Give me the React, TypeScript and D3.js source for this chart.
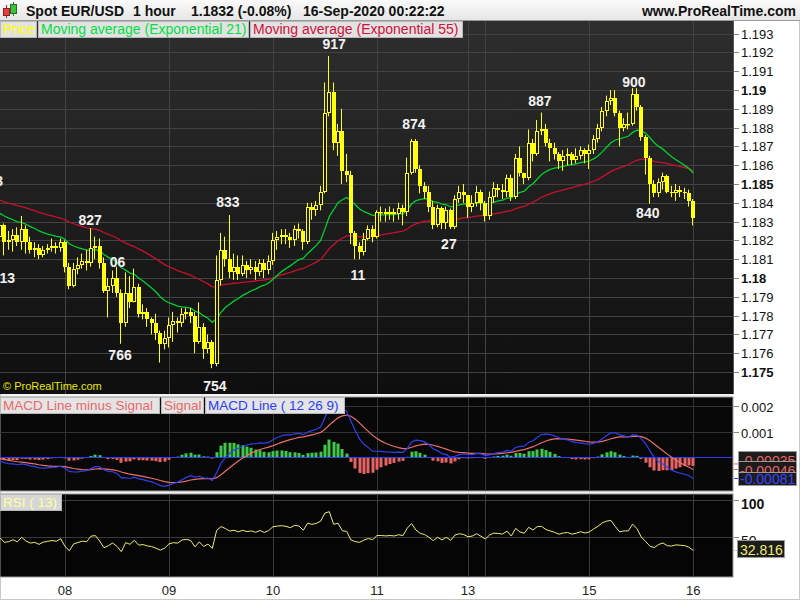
import React from "react";
import * as d3 from "d3";

// ---------- DATA ----------
const OPEN0 = 1.1822;
const closes = [
  1.1828, 1.1819, 1.182, 1.1823, 1.1819, 1.1826, 1.1819, 1.1815, 1.1816, 1.1812,
  1.1815, 1.1816, 1.1817, 1.1816, 1.1819, 1.1806, 1.1796, 1.1805, 1.1807, 1.1809,
  1.1808, 1.1816, 1.1817, 1.1808, 1.1793, 1.1796, 1.18, 1.1792, 1.1776, 1.1792,
  1.1787, 1.1795, 1.1781, 1.1782, 1.1778, 1.1776, 1.1771, 1.1765, 1.1768, 1.1775,
  1.1777, 1.1776, 1.1781, 1.1782, 1.178, 1.1766, 1.1774, 1.1762, 1.1766, 1.1754,
  1.1799, 1.1815, 1.181, 1.1803, 1.1806, 1.1802, 1.1807, 1.1804, 1.1806, 1.1803,
  1.1808, 1.1804, 1.1809, 1.182, 1.1822, 1.1823, 1.1822, 1.182, 1.1826, 1.1825,
  1.1819, 1.1838, 1.1836, 1.1839, 1.1846, 1.1888, 1.1899, 1.1872, 1.1878, 1.1857,
  1.1855, 1.1824, 1.1817, 1.1814, 1.1821, 1.1826, 1.1822, 1.1835, 1.1835, 1.1834,
  1.1835, 1.1834, 1.1837, 1.1835, 1.1856, 1.1873, 1.1858, 1.1849, 1.1846, 1.1838,
  1.1828, 1.1837, 1.1829, 1.1836, 1.1827, 1.1842, 1.1846, 1.1844, 1.1838, 1.184,
  1.1846, 1.184, 1.1833, 1.1843, 1.1848, 1.1847, 1.1846, 1.1853, 1.1843, 1.1864,
  1.1856, 1.1853, 1.1872, 1.1866, 1.1878, 1.1879, 1.1872, 1.1869, 1.1866, 1.1862,
  1.1865, 1.1866, 1.1863, 1.1865, 1.1868, 1.1866, 1.1868, 1.1874, 1.188, 1.1889,
  1.1894, 1.1896, 1.1888, 1.188, 1.1882, 1.1882, 1.1898, 1.1891, 1.1875, 1.1864,
  1.185, 1.1845, 1.1851, 1.1854, 1.1846, 1.1845, 1.1847, 1.1846, 1.1845, 1.1841,
  1.1832,
];
const highs = [
  1.183, 1.1829, 1.1825, 1.1826, 1.1827, 1.1833, 1.1828, 1.1822, 1.1819, 1.1818,
  1.1817, 1.1818, 1.1821, 1.1819, 1.1821, 1.182, 1.1808, 1.1808, 1.1811, 1.1813,
  1.1815, 1.18266, 1.1822, 1.1821, 1.1811, 1.18, 1.1804, 1.1806, 1.1794, 1.1803,
  1.1801, 1.1805, 1.1797, 1.1786, 1.1784, 1.1779, 1.1781, 1.1772, 1.1772, 1.1779,
  1.1782, 1.1779, 1.1784, 1.1784, 1.1784, 1.1782, 1.1787, 1.1776, 1.177, 1.1767,
  1.1812, 1.1824, 1.1822, 1.18335, 1.1813, 1.1812, 1.1812, 1.1809, 1.181, 1.1809,
  1.181, 1.181, 1.1812, 1.1824, 1.1825, 1.1826, 1.1826, 1.1824, 1.1828, 1.1829,
  1.1826, 1.184, 1.184, 1.1841, 1.1849, 1.1904, 1.19181, 1.1904, 1.1882, 1.189,
  1.1866, 1.1857, 1.1825, 1.1819, 1.1824, 1.1828, 1.1828, 1.1836, 1.1838, 1.1837,
  1.1838, 1.1837, 1.184, 1.1839, 1.1864, 1.1874, 1.18739, 1.186, 1.1851, 1.1849,
  1.1841, 1.1839, 1.1838, 1.1838, 1.1837, 1.1844, 1.1849, 1.185, 1.1841, 1.1844,
  1.1849, 1.1847, 1.1841, 1.1846, 1.1851, 1.185, 1.185, 1.1855, 1.1855, 1.1866,
  1.187, 1.1856, 1.1879, 1.1874, 1.1884, 1.1888, 1.1882, 1.1874, 1.1872, 1.1867,
  1.1868, 1.1869, 1.1867, 1.1869, 1.187, 1.1869, 1.1871, 1.1876, 1.1882, 1.1891,
  1.1897, 1.19, 1.19, 1.1889, 1.1885, 1.1888, 1.1901, 1.1901, 1.1892, 1.1876,
  1.1865, 1.1852, 1.1853, 1.1856, 1.1855, 1.1849, 1.185, 1.1849, 1.1848, 1.1847,
  1.1842,
];
const lows = [
  1.182, 1.1812, 1.1815, 1.1814, 1.1817, 1.1815, 1.1813, 1.1813, 1.1811, 1.181,
  1.1811, 1.1813, 1.1814, 1.1813, 1.1814, 1.1803, 1.1794, 1.1795, 1.1802, 1.1805,
  1.1804, 1.1806, 1.181, 1.1805, 1.1792, 1.1779, 1.1792, 1.179, 1.1765, 1.1774,
  1.1784, 1.1787, 1.1779, 1.1778, 1.1774, 1.177, 1.1767, 1.1755, 1.1762, 1.1763,
  1.1766, 1.1771, 1.1774, 1.1778, 1.1776, 1.176, 1.1765, 1.1757, 1.176, 1.1752,
  1.1753, 1.1796, 1.1806, 1.18, 1.1799, 1.1799, 1.1801, 1.18, 1.1802, 1.1799,
  1.1801, 1.18, 1.1802, 1.1807, 1.1815, 1.1818, 1.1818, 1.1816, 1.1817, 1.1821,
  1.1815, 1.1818, 1.1831, 1.1833, 1.1836, 1.1845, 1.1886, 1.1868, 1.1865, 1.185,
  1.1851, 1.1818, 1.181, 1.181, 1.1812, 1.182, 1.1819, 1.1821, 1.183, 1.183,
  1.1831, 1.183, 1.1831, 1.1828, 1.1833, 1.1855, 1.1856, 1.1845, 1.1842, 1.1835,
  1.1826, 1.1827, 1.1826, 1.1826, 1.1826, 1.1826, 1.184, 1.184, 1.1832, 1.1835,
  1.1838, 1.1836, 1.183, 1.1831, 1.184, 1.1843, 1.1842, 1.1843, 1.1841, 1.1842,
  1.1854, 1.185, 1.1852, 1.1862, 1.1865, 1.1876, 1.187, 1.1862, 1.1863, 1.1858,
  1.1857, 1.186, 1.186, 1.1861, 1.1863, 1.1861, 1.1858, 1.1866, 1.1872, 1.1878,
  1.1886, 1.1892, 1.1886, 1.187, 1.1878, 1.1879, 1.1881, 1.1889, 1.1873, 1.1855,
  1.18395, 1.1843, 1.1843, 1.1847, 1.1845, 1.1843, 1.1841, 1.1843, 1.1842, 1.1838,
  1.1828,
];

// indicator seeds (values read at the left edge of the reference)
const EMA21_SEED = 1.1835;
const EMA55_SEED = 1.18418;
const EMA12_SEED = 1.1829;
const EMA26_SEED = 1.18306;
const SIGNAL_SEED = -0.00004;
const RSI_GAIN_SEED = 0.00022;
const RSI_LOSS_SEED = 0.00029;

const dayTickIndex = [15, 39, 63, 87, 108, 112, 136, 160];
const dayTickLabel = ["08", "09", "10", "11", "13", "", "15", "16"];
const priceTicks = [
  1.175, 1.176, 1.177, 1.178, 1.179, 1.18, 1.181, 1.182, 1.183, 1.184,
  1.185, 1.186, 1.187, 1.188, 1.189, 1.19, 1.191, 1.192, 1.193,
];
const boldPriceTicks = [1.175, 1.18, 1.185, 1.19];
const macdTicks = [0.001, 0.002];
const rsiTicks = [50, 100];

const annotations = [
  { text: "917", i: 77.1, price: 1.19181, dy: -7 },
  { text: "874", i: 95.5, price: 1.18739, dy: -10 },
  { text: "887", i: 124.6, price: 1.1888, dy: -7 },
  { text: "900", i: 146.3, price: 1.1901, dy: -1 },
  { text: "827", i: 20.8, price: 1.18266, dy: -3 },
  { text: "833", i: 52.6, price: 1.18335, dy: -8 },
  { text: "766", i: 27.7, price: 1.1765, dy: 16 },
  { text: "754", i: 49.6, price: 1.1752, dy: 23 },
  { text: "11", i: 82.6, price: 1.181, dy: 21 },
  { text: "27", i: 103.6, price: 1.1827, dy: 22 },
  { text: "840", i: 149.5, price: 1.18395, dy: 14 },
  { text: "06", i: 27.1, price: 1.1806, dy: 0 },
  { text: "13", i: 1.7, price: 1.1813, dy: 29 },
  { text: "3", i: -0.2, price: 1.1849, dy: 0 },
];

const legendMain = [
  { text: "Price", color: "#ffff00", x: 0, w: 37 },
  { text: "Moving average (Exponential 21)", color: "#00e040", x: 38, w: 211 },
  { text: "Moving average (Exponential 55)", color: "#d0103a", x: 250, w: 213 },
];
const legendMacd = [
  { text: "MACD Line minus Signal", color: "#e86a6a", x: 0, w: 160 },
  { text: "Signal", color: "#e86a6a", x: 161, w: 43 },
  { text: "MACD Line ( 12 26 9)", color: "#2a3cff", x: 205, w: 140 },
];

// ---------- COMPONENT ----------
const FONT = "'Liberation Sans', Arial, Helvetica, sans-serif";
const YELLOW = "#ffff10";

function ema(src: number[], n: number, seed: number) {
  const k = 2 / (n + 1);
  let prev = seed;
  return src.map((v) => (prev = prev + k * (v - prev)));
}

export default function App() {
  const N = closes.length;
  const opens = closes.map((c, i) => (i === 0 ? OPEN0 : closes[i - 1]));
  const ema21 = ema(closes, 21, EMA21_SEED);
  const ema55 = ema(closes, 55, EMA55_SEED);
  const e12 = ema(closes, 12, EMA12_SEED);
  const e26 = ema(closes, 26, EMA26_SEED);
  const macd = e12.map((v, i) => v - e26[i]);
  const signal = ema(macd, 9, SIGNAL_SEED);
  const hist = macd.map((v, i) => v - signal[i]);
  let ag = RSI_GAIN_SEED;
  let al = RSI_LOSS_SEED;
  const rsi = closes.map((c, i) => {
    const d = c - opens[i];
    ag = (ag * 12 + Math.max(d, 0)) / 13;
    al = (al * 12 + Math.max(-d, 0)) / 13;
    return 100 - 100 / (1 + ag / al);
  });

  const main = { x0: 0, x1: 733, y0: 21, y1: 394 };
  const mpan = { y0: 397, y1: 491 };
  const rpan = { y0: 494, y1: 577 };

  const xs = d3.scaleLinear().domain([0, 160]).range([0, 693.3]);
  const ys = d3.scaleLinear().domain([1.175, 1.19]).range([372, 90]);
  const ym = d3.scaleLinear().domain([0, 0.002]).range([457, 406]);
  const yr = d3.scaleLinear().domain([0, 100]).range([573.5, 499.5]);

  const idx = d3.range(N);
  const lineMain = (arr: number[]) =>
    d3.line<number>().x((i) => xs(i)).y((i) => ys(arr[i]))(idx) || "";
  const lineMacd = (arr: number[]) =>
    d3.line<number>().x((i) => xs(i)).y((i) => ym(arr[i]))(idx) || "";
  const lineRsi = d3.line<number>().x((i) => xs(i)).y((i) => yr(rsi[i]))(idx) || "";

  const dayX = dayTickIndex.map((i) => Math.round(xs(i)) + 0.5);

  return (
    <svg
      width={800}
      height={600}
      style={{ position: "absolute", left: 0, top: 0, fontFamily: FONT }}
    >
      <defs>
        <linearGradient id="mainbg" x1="0" y1="0" x2="0" y2="1">
          <stop offset="0" stopColor="#2e2e2e" />
          <stop offset="1" stopColor="#0e0e0e" />
        </linearGradient>
        <linearGradient id="hdr" x1="0" y1="0" x2="0" y2="1">
          <stop offset="0" stopColor="#fafafa" />
          <stop offset="1" stopColor="#e6e6e6" />
        </linearGradient>
        <clipPath id="cpMain">
          <rect x={main.x0} y={main.y0} width={main.x1 - main.x0} height={main.y1 - main.y0} />
        </clipPath>
        <clipPath id="cpMacd">
          <rect x={0} y={mpan.y0} width={733} height={mpan.y1 - mpan.y0} />
        </clipPath>
        <clipPath id="cpRsi">
          <rect x={0} y={rpan.y0} width={733} height={rpan.y1 - rpan.y0} />
        </clipPath>
      </defs>

      {/* page background */}
      <rect x={0} y={0} width={800} height={600} fill="#f2f2f2" />
      <rect x={733} y={21} width={66} height={578} fill="#ffffff" />
      <rect x={0} y={577} width={733} height={22} fill="#ffffff" />
      <rect x={0.5} y={0.5} width={799} height={599} fill="none" stroke="#c8c8c8" />

      {/* header */}
      <rect x={0} y={0} width={800} height={20} fill="url(#hdr)" />
      <line x1={0} y1={20.5} x2={800} y2={20.5} stroke="#9a9a9a" />
      <g>
        <line x1={6.5} y1={5} x2={6.5} y2={18} stroke="#c02020" />
        <rect x={3.5} y={8.5} width={6} height={7} fill="#e04040" stroke="#902020" />
        <line x1={13.5} y1={2} x2={13.5} y2={16} stroke="#208020" />
        <rect x={10.5} y={4.5} width={6} height={9} fill="#40c040" stroke="#207020" />
      </g>
      <g fontWeight="bold" fontSize={14} fill="#111">
        <text x={26} y={16}>Spot EUR/USD</text>
        <text x={133} y={16}>1 hour</text>
        <text x={191} y={16}>1.1832 (-0.08%)</text>
        <text x={303} y={16}>16-Sep-2020 00:22:22</text>
        <text x={796} y={16} textAnchor="end">www.ProRealTime.com</text>
      </g>

      {/* ---------- main panel ---------- */}
      <rect x={main.x0} y={main.y0} width={main.x1 - main.x0} height={main.y1 - main.y0} fill="url(#mainbg)" />
      <g clipPath="url(#cpMain)">
        {priceTicks.map((p) => (
          <line key={p} x1={0} x2={733} y1={Math.round(ys(p)) + 0.5} y2={Math.round(ys(p)) + 0.5} stroke="#424242" />
        ))}
        {dayX.map((x, k) => (
          <line key={k} x1={x} x2={x} y1={main.y0} y2={main.y1} stroke="#424242" />
        ))}
        <path d={lineMain(ema55)} fill="none" stroke="#c8102e" strokeWidth={1.3} />
        <path d={lineMain(ema21)} fill="none" stroke="#00d030" strokeWidth={1.3} />
        {idx.map((i) => {
          const cx = Math.round(xs(i));
          const o = opens[i];
          const c = closes[i];
          const h = Math.max(highs[i], o, c);
          const l = Math.min(lows[i], o, c);
          const top = Math.round(ys(Math.max(o, c)));
          const bot = Math.round(ys(Math.min(o, c)));
          const up = c >= o;
          return (
            <g key={i}>
              <line x1={cx - 0.5} x2={cx - 0.5} y1={ys(h)} y2={ys(l)} stroke={YELLOW} strokeWidth={1} />
              {up ? (
                <rect x={cx - 1.5} y={top + 0.5} width={3} height={Math.max(bot - top - 1, 0.5)} fill="#1c1c1c" stroke={YELLOW} strokeWidth={1} />
              ) : (
                <rect x={cx - 2} y={top} width={4} height={Math.max(bot - top, 1)} fill={YELLOW} />
              )}
            </g>
          );
        })}
        {annotations.map((a) => (
          <text
            key={a.text}
            x={xs(a.i)}
            y={ys(a.price) + a.dy}
            textAnchor="middle"
            fontSize={14}
            fontWeight="bold"
            fill="#f2f2f2"
          >
            {a.text}
          </text>
        ))}
        <text x={3} y={390} fontSize={11} fill="#e8e800">© ProRealTime.com</text>
      </g>
      {legendMain.map((lg) => (
        <g key={lg.text}>
          <rect x={lg.x + 0.5} y={21.5} width={lg.w - 1} height={16} fill="#e2e2e2" stroke="#b8b8b8" />
          <text x={lg.x + 3} y={34} fontSize={14} fill={lg.color}>{lg.text}</text>
        </g>
      ))}
      <line x1={733.5} y1={21} x2={733.5} y2={394} stroke="#555" />
      {/* price axis */}
      {priceTicks.map((p) => {
        const y = Math.round(ys(p)) + 0.5;
        const b = boldPriceTicks.includes(p);
        return (
          <g key={p}>
            <line x1={734} x2={739} y1={y} y2={y} stroke="#888" />
            <text x={741} y={y + 4.5} fontSize={13} fontWeight={b ? "bold" : "normal"} fill="#111">
              {d3.format(b ? ".3~f" : ".3f")(p)}
            </text>
          </g>
        );
      })}

      {/* ---------- MACD panel ---------- */}
      <rect x={0} y={mpan.y0} width={733} height={mpan.y1 - mpan.y0} fill="#080808" stroke="#9a9a9a" />
      <g clipPath="url(#cpMacd)">
        {macdTicks.map((t) => (
          <line key={t} x1={0} x2={733} y1={Math.round(ym(t)) + 0.5} y2={Math.round(ym(t)) + 0.5} stroke="#333" />
        ))}
        {dayX.map((x, k) => (
          <line key={k} x1={x} x2={x} y1={mpan.y0} y2={mpan.y1} stroke="#333" />
        ))}
        {idx.map((i) => {
          const v = hist[i];
          const y0 = ym(0);
          const y1 = ym(v);
          return (
            <rect
              key={i}
              x={Math.round(xs(i)) - 1.5}
              y={Math.min(y0, y1)}
              width={3}
              height={Math.max(Math.abs(y1 - y0), 0.5)}
              fill={v >= 0 ? "#40c848" : "#e86464"}
            />
          );
        })}
        <line x1={0} x2={733} y1={Math.round(ym(0)) + 0.5} y2={Math.round(ym(0)) + 0.5} stroke="#2a3cff" />
        <path d={lineMacd(signal)} fill="none" stroke="#e87068" strokeWidth={1.2} />
        <path d={lineMacd(macd)} fill="none" stroke="#3040f0" strokeWidth={1.2} />
      </g>
      {legendMacd.map((lg) => (
        <g key={lg.text}>
          <rect x={lg.x + 0.5} y={397.5} width={lg.w - 1} height={16} fill="#e4e4e4" stroke="#b8b8b8" />
          <text x={lg.x + 3} y={410} fontSize={13.5} fill={lg.color}>{lg.text}</text>
        </g>
      ))}
      {macdTicks.map((t) => {
        const y = Math.round(ym(t)) + 0.5;
        return (
          <g key={t}>
            <line x1={734} x2={739} y1={y} y2={y} stroke="#888" />
            <text x={741} y={y + 5} fontSize={13} fill="#111">{d3.format(".3f")(t)}</text>
          </g>
        );
      })}
      <line x1={734} x2={738} y1={ym(hist[N - 1]) - 2} y2={ym(hist[N - 1]) - 2} stroke="#e86464" />
      <line x1={734} x2={738} y1={ym(signal[N - 1])} y2={ym(signal[N - 1])} stroke="#e86464" />
      <line x1={734} x2={738} y1={ym(macd[N - 1])} y2={ym(macd[N - 1])} stroke="#3040f0" />
      <g fontSize={14}>
        <rect x={738.5} y={451.5} width={58} height={12} fill="#1c1c1c" stroke="#9a9a9a" />
        <text x={740} y={466} fill="#e86464">{d3.format(".5f")(-0.00035).replace("−", "-")}</text>
        <rect x={738.5} y={461.5} width={58} height={12} fill="#1c1c1c" stroke="#9a9a9a" />
        <text x={740} y={476} fill="#e86464">-0.00046</text>
        <rect x={738.5} y={472.5} width={58} height={13} fill="#1c1c1c" stroke="#9a9a9a" />
        <text x={740} y={484} fill="#3a44ff">-0.00081</text>
      </g>

      {/* ---------- RSI panel ---------- */}
      <rect x={0} y={rpan.y0} width={733} height={rpan.y1 - rpan.y0} fill="#050505" stroke="#9a9a9a" />
      <g clipPath="url(#cpRsi)">
        {rsiTicks.map((t) => (
          <line key={t} x1={0} x2={733} y1={Math.round(yr(t)) + 0.5} y2={Math.round(yr(t)) + 0.5} stroke="#3a3a3a" />
        ))}
        {dayX.map((x, k) => (
          <line key={k} x1={x} x2={x} y1={rpan.y0} y2={rpan.y1} stroke="#3a3a3a" />
        ))}
        <path d={lineRsi} fill="none" stroke="#f0ec70" strokeWidth={1} />
      </g>
      <rect x={0.5} y={494.5} width={61} height={16} fill="#d6d6d6" stroke="#b8b8b8" />
      <text x={3} y={507} fontSize={13.5} fill="#ffffa0">RSI ( 13)</text>
      {rsiTicks.map((t) => {
        const y = Math.round(yr(t)) + 0.5;
        return (
          <g key={t}>
            <line x1={734} x2={739} y1={y} y2={y} stroke="#888" />
            <text x={741} y={y + 8} fontSize={14} fontWeight={t === 100 ? "bold" : "normal"} fill="#111">{t}</text>
          </g>
        );
      })}
      <line x1={734} x2={738} y1={yr(rsi[N - 1])} y2={yr(rsi[N - 1])} stroke="#e8e070" />
      <rect x={737.5} y={540.5} width={47} height={17} fill="#1c1c1c" stroke="#9a9a9a" />
      <text x={740} y={555} fontSize={14} fill="#f0ec70">32.816</text>

      {/* x axis */}
      {dayTickIndex.map((i, k) => (
        <text key={k} x={xs(i)} y={595} fontSize={13} textAnchor="middle" fill="#222">
          {dayTickLabel[k]}
        </text>
      ))}
    </svg>
  );
}
